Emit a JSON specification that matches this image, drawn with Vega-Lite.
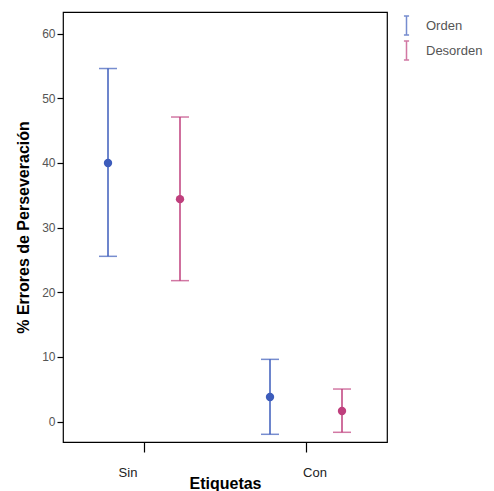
{
  "$schema": "https://vega.github.io/schema/vega-lite/v6.json",
  "autosize": {"type": "none"},
  "padding": {"left": 63, "top": 12, "right": 107, "bottom": 49},
  "width": 324,
  "height": 430,
  "config": {
    "font": "Liberation Sans",
    "view": {"stroke": "#000000", "strokeWidth": 1.2},
    "axis": {"grid": false, "domain": false}
  },
  "data": {
    "values": [
      {"Etiquetas": "Sin", "grupo": "Orden", "mean": 40.0, "lo": 25.56, "hi": 54.6},
      {"Etiquetas": "Sin", "grupo": "Desorden", "mean": 34.4, "lo": 21.8, "hi": 47.1},
      {"Etiquetas": "Con", "grupo": "Orden", "mean": 3.8, "lo": -1.96, "hi": 9.63},
      {"Etiquetas": "Con", "grupo": "Desorden", "mean": 1.64, "lo": -1.65, "hi": 5.04}
    ]
  },
  "encoding": {
    "x": {
      "field": "Etiquetas", "type": "nominal", "sort": ["Sin", "Con"],
      "scale": {"paddingInner": 0, "paddingOuter": 0},
      "axis": {
        "title": "Etiquetas", "titleFontSize": 16, "titleFontWeight": "bold", "titleColor": "#000000",
        "titlePadding": -4,
        "labelAngle": 0, "labelFontSize": 13, "labelColor": "#222222", "labelPadding": 14,
        "labelOffset": {"expr": "datum.value == 'Sin' ? -16 : 9"},
        "tickSize": 10, "tickColor": "#000000", "tickWidth": 1.2
      }
    },
    "xOffset": {
      "field": "grupo", "type": "nominal", "sort": ["Orden", "Desorden"],
      "scale": {"paddingInner": 0.25, "paddingOuter": 0.25}
    },
    "color": {
      "field": "grupo", "type": "nominal", "sort": ["Orden", "Desorden"],
      "scale": {"domain": ["Orden", "Desorden"], "range": ["#3d5cbb", "#bf3f7d"]},
      "legend": {
        "title": null, "orient": "none", "legendX": 333, "legendY": 3, "padding": 0,
        "symbolType": "M-0.27,-1H0.27M0,-1V1M-0.27,1H0.27",
        "symbolSize": 361, "symbolStrokeWidth": 1.5, "symbolFillColor": "transparent",
        "labelFontSize": 13, "labelColor": "#555555", "labelOffset": 9, "rowPadding": 0
      }
    }
  },
  "layer": [
    {
      "mark": {"type": "rule", "strokeWidth": 1.5},
      "encoding": {
        "y": {
          "field": "lo", "type": "quantitative",
          "scale": {"domain": [-3.15, 63.34], "nice": false, "zero": false},
          "axis": {
            "title": "% Errores de Perseveración", "titleFontSize": 16, "titleFontWeight": "bold",
            "titleColor": "#000000", "titlePadding": 10,
            "values": [0, 10, 20, 30, 40, 50, 60],
            "labelFontSize": 12, "labelColor": "#555555", "labelPadding": 2,
            "tickSize": 6, "tickColor": "#000000", "tickWidth": 1.2
          }
        },
        "y2": {"field": "hi"}
      }
    },
    {
      "mark": {"type": "tick", "size": 18, "thickness": 1.5, "orient": "horizontal"},
      "encoding": {"y": {"field": "lo", "type": "quantitative"}}
    },
    {
      "mark": {"type": "tick", "size": 18, "thickness": 1.5, "orient": "horizontal"},
      "encoding": {"y": {"field": "hi", "type": "quantitative"}}
    },
    {
      "mark": {"type": "point", "filled": true, "size": 70, "opacity": 1},
      "encoding": {"y": {"field": "mean", "type": "quantitative"}}
    }
  ]
}
